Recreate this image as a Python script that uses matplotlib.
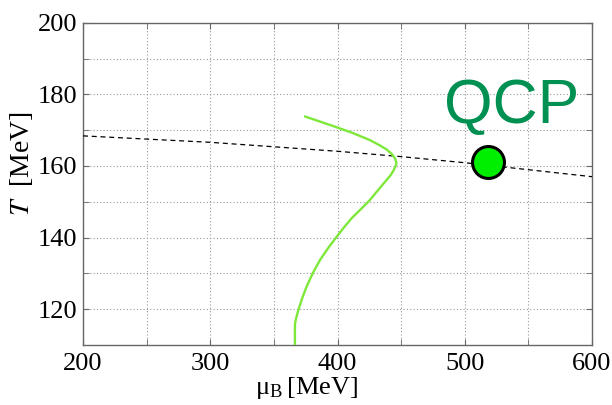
import matplotlib
matplotlib.use("Agg")
import matplotlib.pyplot as plt
import numpy as np

# Freeze-out / crossover line (dashed)
line_mu = [200, 300, 400, 450, 500, 600]
line_T = [168.4, 166.6, 164.1, 162.6, 160.9, 157.0]

# Green curve
green_mu = [374.6, 387.0, 399.3, 412.0, 425.5, 433.0, 438.6, 442.5, 445.2, 446.3, 446.0,
            444.0, 441.5, 438.6, 432.0, 425.5, 418.0, 411.1, 405.0, 399.3, 392.5, 386.2,
            380.5, 375.7, 372.0, 369.2, 367.5, 366.6, 366.5, 366.6]
green_T = [173.8, 172.3, 170.8, 169.2, 167.2, 165.8, 164.6, 163.4, 162.1, 161.0, 160.3,
           158.7, 157.3, 156.1, 153.3, 150.5, 147.8, 145.4, 142.8, 140.2, 137.0, 133.7,
           130.0, 126.3, 122.8, 119.7, 117.5, 116.0, 113.0, 109.5]

# QCP point
qcp_mu = [518.5]
qcp_T = [161.2]

xticks = [200, 300, 400, 500, 600]
yticks = [120, 140, 160, 180, 200]

plt.rcParams['font.family'] = ['Liberation Serif', 'DejaVu Serif']
plt.rcParams['mathtext.fontset'] = 'stix'

fig = plt.figure(figsize=(6.12, 4.05), dpi=100)
ax = fig.add_axes([83/612, 1-345/405, (592-83)/612, (345-22.7)/405])

ax.plot(line_mu, line_T, color='black', lw=0.9, ls=(0, (4, 3)), zorder=3)
ax.plot(green_mu, green_T, color='#7ee83a', lw=1.7, zorder=3, solid_joinstyle='round')
ax.plot(qcp_mu, qcp_T, 'o', ms=23, mfc='#00ee00', mec='black', mew=2.2, zorder=5)
ax.text(537, 172.0, 'QCP', color='#009052', fontsize=45, family='Liberation Sans',
        ha='center', va='baseline', zorder=6)

ax.set_xlim(200, 600)
ax.set_ylim(110, 200)
ax.set_xticks(xticks)
ax.set_yticks(yticks)
ax.set_xticks(np.arange(250, 600, 100), minor=True)
ax.set_yticks(np.arange(130, 200, 20), minor=True)
ax.grid(True, which='both', ls=(0, (1, 2)), color='#999999', lw=0.8)
ax.tick_params(which='both', direction='in', top=True, right=True, length=4, color='#666666', labelsize=19)
ax.tick_params(axis='x', pad=6)
ax.tick_params(axis='y', pad=4)
for s in ax.spines.values():
    s.set_color('#666666')
    s.set_linewidth(1.0)

ax.set_xlabel(r'$\mathregular{\mu}_{\mathregular{B}}\,$[MeV]', fontsize=19)
ax.set_ylabel(r'$T$  [MeV]', fontsize=20)
ax.xaxis.set_label_coords(0.44, -0.092)
ax.yaxis.set_label_coords(-0.094, 0.563)

fig.savefig('out.png', dpi=100)
